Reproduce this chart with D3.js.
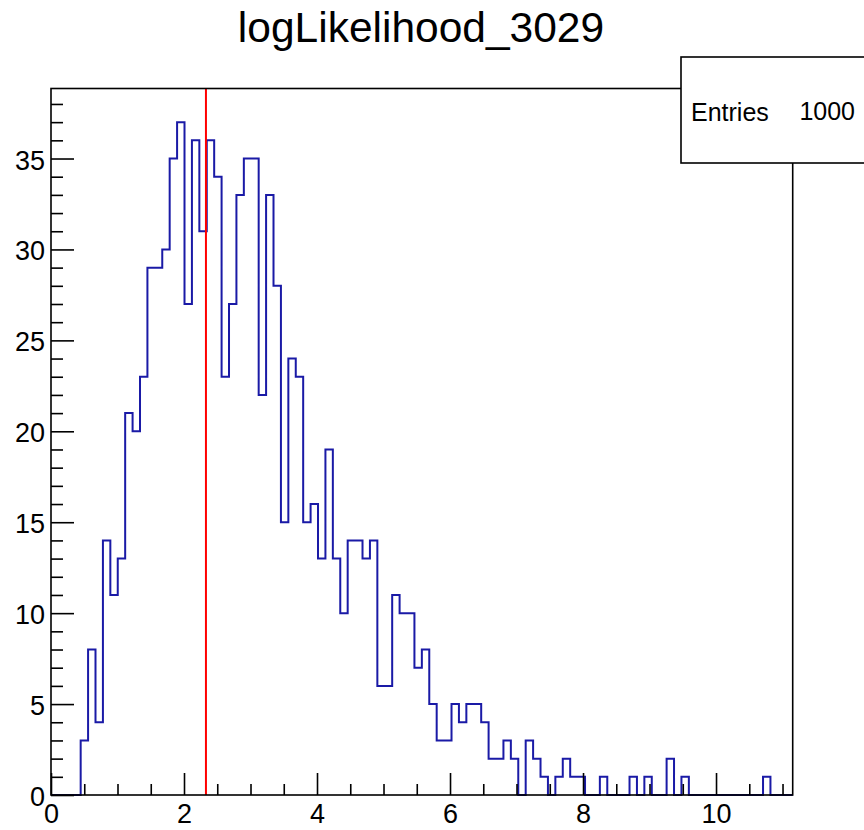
<!DOCTYPE html>
<html>
<head>
<meta charset="utf-8">
<script src="https://cdn.jsdelivr.net/npm/d3@7"></script>
<style>
  html, body { margin: 0; padding: 0; background: #fff; }
  svg { display: block; }
  text { font-family: "Liberation Sans", Arial, Helvetica, sans-serif; fill: #000; }
</style>
</head>
<body>
<script>
// ---- data ----
const title = "logLikelihood_3029";
const xMin = 0;
const xMax = 11.153;
const nBins = 100;
const binCounts = [
  0, 0, 0, 0, 3, 8, 4, 14, 11, 13,
  21, 20, 23, 29, 29, 30, 35, 37, 27, 36,
  31, 36, 34, 23, 27, 33, 35, 35, 22, 33,
  28, 15, 24, 23, 15, 16, 13, 19, 13, 10,
  14, 14, 13, 14, 6, 6, 11, 10, 10, 7,
  8, 5, 3, 3, 5, 4, 5, 5, 4, 2,
  2, 3, 2, 0, 3, 2, 1, 0, 1, 2,
  1, 1, 0, 0, 1, 0, 0, 0, 1, 0,
  1, 0, 0, 2, 0, 1, 0, 0, 0, 0,
  0, 0, 0, 0, 0, 0, 1, 0, 0, 0
];
const markerX = 2.33;
const yMax = 38.85;
const xMajorTicks = [0, 2, 4, 6, 8, 10];
const yMajorTicks = [0, 5, 10, 15, 20, 25, 30, 35];
const statsLabel = "Entries";
const statsValue = "1000";

// ---- layout ----
const W = 864, H = 830;
const frame = { left: 51, right: 792.7, top: 88.5, bottom: 795 };

const svg = d3.select("body").append("svg").attr("width", W).attr("height", H);

const x = d3.scaleLinear().domain([xMin, xMax]).range([frame.left, frame.right]);
const y = d3.scaleLinear().domain([0, yMax]).range([frame.bottom, frame.top]);

// title
svg.append("text")
  .attr("x", 421).attr("y", 42)
  .attr("text-anchor", "middle")
  .style("font-size", "42.5px")
  .text(title);

// histogram step path
const binW = (xMax - xMin) / nBins;
const pts = [[x(xMin), y(0)]];
binCounts.forEach((c, i) => {
  const x0 = x(xMin + i * binW), x1 = x(xMin + (i + 1) * binW);
  pts.push([x0, y(c)]);
  pts.push([x1, y(c)]);
});
pts.push([x(xMax), y(0)]);

svg.append("path")
  .attr("d", d3.line()(pts))
  .attr("fill", "none")
  .attr("stroke", "#1a1aa6")
  .attr("stroke-width", 2)
  .attr("stroke-linejoin", "miter");

// red vertical line
svg.append("line")
  .attr("x1", x(markerX)).attr("x2", x(markerX))
  .attr("y1", y(0)).attr("y2", frame.top)
  .attr("stroke", "#ff0000").attr("stroke-width", 2);

// axes (ticks pointing inward)
const minorX = d3.range(0, xMax, 0.5).filter(v => !xMajorTicks.includes(v));
const minorY = d3.range(0, yMax, 1).filter(v => !yMajorTicks.includes(v));

const gxMinor = svg.append("g").attr("transform", `translate(0,${frame.bottom})`)
  .call(d3.axisBottom(x).tickValues(minorX).tickSize(-11).tickFormat(""));
const gxMajor = svg.append("g").attr("transform", `translate(0,${frame.bottom})`)
  .call(d3.axisBottom(x).tickValues(xMajorTicks).tickSize(-22).tickPadding(0).tickFormat(d3.format("d")));
gxMajor.selectAll("text")
  .attr("y", 28).attr("dy", null)
  .style("font-size", "27px");

const gyMinor = svg.append("g").attr("transform", `translate(${frame.left},0)`)
  .call(d3.axisLeft(y).tickValues(minorY).tickSize(-12).tickFormat(""));
const gyMajor = svg.append("g").attr("transform", `translate(${frame.left},0)`)
  .call(d3.axisLeft(y).tickValues(yMajorTicks).tickSize(-23).tickFormat(d3.format("d")));
gyMajor.selectAll("text")
  .attr("x", -6).attr("dy", null).attr("y", 10.5)
  .style("font-size", "27px");

[gxMinor, gxMajor, gyMinor, gyMajor].forEach(g => {
  g.select(".domain").remove();
  g.selectAll("line").attr("stroke", "#000").attr("stroke-width", 1.6);
  g.selectAll("text").attr("fill", "#000").style("font-family", "'Liberation Sans', Arial, sans-serif");
});

// frame
svg.append("rect")
  .attr("x", frame.left).attr("y", frame.top)
  .attr("width", frame.right - frame.left).attr("height", frame.bottom - frame.top)
  .attr("fill", "none").attr("stroke", "#000").attr("stroke-width", 1.6);

// stats box
const sb = { x: 681, y: 57, w: 200, h: 106 };
svg.append("rect")
  .attr("x", sb.x).attr("y", sb.y).attr("width", sb.w).attr("height", sb.h)
  .attr("fill", "#fff").attr("stroke", "#000").attr("stroke-width", 1.6);
svg.append("text")
  .attr("x", 691).attr("y", 121)
  .style("font-size", "25px")
  .text(statsLabel);
svg.append("text")
  .attr("x", 855).attr("y", 120)
  .attr("text-anchor", "end")
  .style("font-size", "25px")
  .text(statsValue);
</script>
</body>
</html>
